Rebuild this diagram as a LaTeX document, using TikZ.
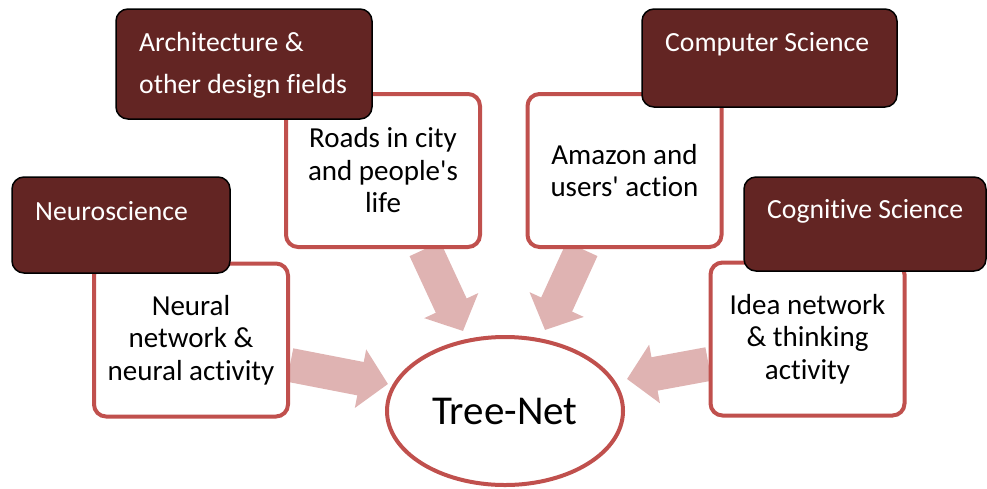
\documentclass[tikz,border=0pt]{standalone}
\usepackage{fontspec}
\setmainfont{Carlito}[Ligatures={TeX,NoCommon}]
\usetikzlibrary{arrows.meta,shapes.geometric,backgrounds}
\definecolor{boxred}{HTML}{C0504D}
\definecolor{darkred}{HTML}{632523}
\definecolor{arrowpink}{HTML}{DFB3B2}
\tikzset{
  whitebox/.style={draw=boxred, line width=4pt, fill=white, rounded corners=12pt,
    minimum width=194pt, minimum height=153pt, align=center, inner sep=0pt,
    font=\fontsize{29}{32.5}\selectfont},
  darkbox/.style={draw=black, line width=1.5pt, fill=darkred, rounded corners=12pt, inner sep=0pt},
  darktext/.style={text=white, anchor=west, align=left, inner sep=0pt,
    font=\fontsize{27.7}{42}\selectfont},
  fatarrow/.style={draw=arrowpink, line width=34pt, -{Triangle[length=28pt,width=58pt]}}
}
\begin{document}
\begin{tikzpicture}[x=1pt,y=-1pt]
\useasboundingbox (0,0) rectangle (987,488);
% white boxes
\node[whitebox] (neural) at (191,340) {Neural\\network \&\\neural activity};
\node[whitebox] (roads) at (383,170.5) {Roads in city\\and people\textquotesingle s\\life};
\node[whitebox] (amazon) at (624.5,170.5) {Amazon and\\users\textquotesingle\ action};
\node[whitebox] (idea) at (807.5,339) {Idea network\\\& thinking\\activity};
% dark boxes
\node[darkbox, minimum width=218pt, minimum height=96pt] (neuro) at (121,225) {};
\node[darkbox, minimum width=256pt, minimum height=110pt] (arch) at (244,64) {};
\node[darkbox, minimum width=255pt, minimum height=98pt] (comp) at (769.5,58) {};
\node[darkbox, minimum width=242pt, minimum height=94pt] (cogn) at (865,224) {};
\node[darktext] (neurot) at (35,211) {Neuroscience};
\node[darktext] (archt) at (139,65) {Architecture \&\\other design fields};
\node[darktext] (compt) at (665,44) {Computer Science};
\node[darktext] (cognt) at (767,211) {Cognitive Science};
% central ellipse
\node[ellipse, draw=boxred, line width=4pt, fill=white, minimum width=236pt, minimum height=148pt,
  font=\fontsize{41}{48}\selectfont] (tree) at (505,411) {Tree-Net};
% arrows
\coordinate (a1s) at (neural.east |- 0,365);
\coordinate (a1e) at (388,384);
\coordinate (a2s) at (425,0 |- roads.south);
\coordinate (a2e) at (463,331);
\coordinate (a3s) at (582,0 |- amazon.south);
\coordinate (a3e) at (545,330);
\coordinate (a4s) at (idea.west |- 0,364);
\coordinate (a4e) at (627,379);
\begin{scope}[on background layer]
\draw[fatarrow] (a1s) -- (a1e);
\draw[fatarrow] (a2s) -- (a2e);
\draw[fatarrow] (a3s) -- (a3e);
\draw[fatarrow] (a4s) -- (a4e);
\end{scope}
\end{tikzpicture}
\end{document}
